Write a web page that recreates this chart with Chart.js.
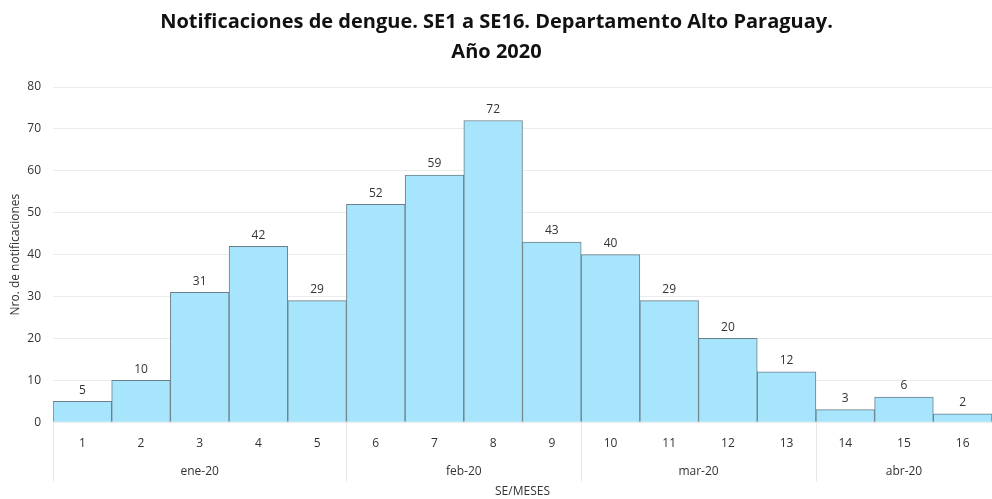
<!DOCTYPE html>
<html>
<head>
<meta charset="utf-8">
<script src="https://cdn.jsdelivr.net/npm/chart.js@4/dist/chart.umd.min.js"></script>
<style>
  html, body { margin: 0; padding: 0; background: #fff; }
  #wrap { width: 992px; height: 499px; }
</style>
</head>
<body>
<div id="wrap"><canvas id="chart" width="992" height="499"></canvas></div>
<script>
const weeks = ['1', '2', '3', '4', '5', '6', '7', '8', '9', '10', '11', '12', '13', '14', '15', '16'];
const cases = [5, 10, 31, 42, 29, 52, 59, 72, 43, 40, 29, 20, 12, 3, 6, 2];
const months = ['ene-20', 'feb-20', 'mar-20', 'abr-20'];
const monthFirstWeek = [0, 5, 9, 13];
const monthLastWeek = [4, 8, 12, 15];
const yTicks = [0, 10, 20, 30, 40, 50, 60, 70, 80];

const fontFamily = '"Open Sans", "Noto Sans", sans-serif';

// labels above each bar
const valueLabels = {
    id: 'valueLabels',
    afterDatasetsDraw(chart) {
        const ctx = chart.ctx;
        const meta = chart.getDatasetMeta(0);
        ctx.save();
        ctx.font = '12px ' + fontFamily;
        ctx.fillStyle = '#333';
        ctx.textAlign = 'center';
        ctx.textBaseline = 'bottom';
        meta.data.forEach((bar, i) => {
            ctx.fillText(cases[i], bar.x, bar.y - 5);
        });
        ctx.restore();
    }
};

// month row under the week ticks, with separators
const monthRow = {
    id: 'monthRow',
    afterDraw(chart) {
        const ctx = chart.ctx;
        const x = chart.scales.x;
        const half = (x.getPixelForValue(1) - x.getPixelForValue(0)) / 2;
        const top = chart.chartArea.bottom;
        ctx.save();
        ctx.strokeStyle = '#e6e6e6';
        ctx.lineWidth = 1;
        ctx.font = '12px ' + fontFamily;
        ctx.fillStyle = '#333';
        ctx.textAlign = 'center';
        ctx.textBaseline = 'middle';
        months.forEach((m, i) => {
            const left = x.getPixelForValue(monthFirstWeek[i]) - half;
            const right = x.getPixelForValue(monthLastWeek[i]) + half;
            const lx = Math.round(left) + 0.5;
            ctx.beginPath();
            ctx.moveTo(lx, top);
            ctx.lineTo(lx, top + 59);
            ctx.stroke();
            ctx.fillText(m, (left + right) / 2, top + 49);
        });
        ctx.restore();
    }
};

new Chart(document.getElementById('chart'), {
    type: 'bar',
    data: {
        labels: weeks,
        datasets: [{
            data: cases,
            backgroundColor: '#a6e5fb',
            borderColor: '#6a7f8a',
            borderWidth: 1,
            barPercentage: 1,
            categoryPercentage: 1
        }]
    },
    options: {
        responsive: false,
        animation: false,
        layout: { padding: { left: 1, right: 0, top: 0, bottom: 0 } },
        plugins: {
            legend: { display: false },
            tooltip: { enabled: false },
            title: {
                display: true,
                text: ['Notificaciones de dengue. SE1 a SE16. Departamento Alto Paraguay.', 'Año 2020'],
                color: '#111',
                font: { family: fontFamily, size: 20, weight: 'bold', lineHeight: 1.5 },
                padding: { top: 7, bottom: 20 }
            }
        },
        scales: {
            x: {
                grid: { display: false },
                border: { display: false },
                ticks: { color: '#333', font: { family: fontFamily, size: 12 }, padding: 6 },
                title: {
                    display: true,
                    text: 'SE/MESES',
                    color: '#333',
                    font: { family: fontFamily, size: 12 },
                    padding: { top: 28, bottom: 0 }
                }
            },
            y: {
                min: 0,
                max: 80,
                afterBuildTicks(axis) { axis.ticks = yTicks.map(v => ({ value: v })); },
                afterFit(axis) { axis.width = 52; },
                grid: { color: '#ececec', drawTicks: false },
                border: { display: false },
                ticks: { color: '#333', font: { family: fontFamily, size: 12 }, padding: 12 },
                title: {
                    display: true,
                    text: 'Nro. de notificaciones',
                    color: '#333',
                    font: { family: fontFamily, size: 12 },
                    padding: { top: 7, bottom: 0 }
                }
            }
        }
    },
    plugins: [valueLabels, monthRow]
});
</script>
</body>
</html>
